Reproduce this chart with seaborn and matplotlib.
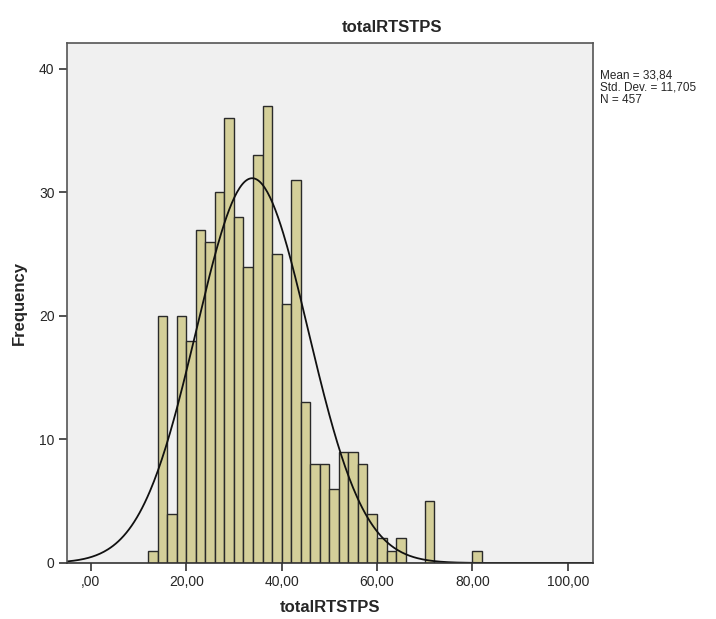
import numpy as np
import pandas as pd
import seaborn as sns
import matplotlib.pyplot as plt

# Histogram counts (bin width 2)
bin_left = [12, 14, 16, 18, 20, 22, 24, 26, 28, 30, 32, 34, 36, 38, 40, 42, 44,
            46, 48, 50, 52, 54, 56, 58, 60, 62, 64, 66, 68, 70, 72, 74, 76, 78, 80]
counts = [1, 20, 4, 20, 18, 27, 26, 30, 36, 28, 24, 33, 37, 25, 21, 31, 13,
          8, 8, 6, 9, 9, 8, 4, 2, 1, 2, 0, 0, 5, 0, 0, 0, 0, 1]
mean_val = 33.84
sd_val = 11.705
n_val = 457
bin_width = 2

xticks = [0, 20, 40, 60, 80, 100]
xtick_labels = [",00", "20,00", "40,00", "60,00", "80,00", "100,00"]
yticks = [0, 10, 20, 30, 40]

df = pd.DataFrame({"totalRTSTPS": bin_left, "count": counts})

sns.set_style("ticks")
plt.rcParams["font.family"] = ["Liberation Sans", "DejaVu Sans"]

fig = plt.figure(figsize=(7.16, 6.19), dpi=100)
ax = fig.add_axes([67 / 716, 1 - 563 / 619, (593 - 67) / 716, (563 - 43) / 619])
ax.set_facecolor("#f0f0f0")

sns.histplot(data=df, x="totalRTSTPS", weights="count", binwidth=bin_width, binrange=(12, 82),
             color="#d4cf99", edgecolor="#2a2a2a", linewidth=1.0, alpha=1, ax=ax)

# fitted normal curve
xs = np.linspace(-5, 105.3, 400)
ys = n_val * bin_width * np.exp(-0.5 * ((xs - mean_val) / sd_val) ** 2) / (sd_val * np.sqrt(2 * np.pi))
sns.lineplot(x=xs, y=ys, color="#111111", linewidth=1.3, ax=ax)

ax.set_xlim(-5, 105.3)
ax.set_ylim(0, 42.1)
ax.set_xticks(xticks)
ax.set_xticklabels(xtick_labels, fontsize=10)
ax.set_yticks(yticks)
ax.set_yticklabels([str(v) for v in yticks], fontsize=10)
ax.tick_params(axis="both", length=6, width=1.2, color="#333333", pad=3)

for side in ["top", "right", "left", "bottom"]:
    ax.spines[side].set_visible(True)
    ax.spines[side].set_color("#555555")
    ax.spines[side].set_linewidth(1.2)
ax.spines["bottom"].set_color("#333333")

ax.set_xlabel("totalRTSTPS", fontsize=12, weight="bold", labelpad=12)
ax.set_ylabel("Frequency", fontsize=12, weight="bold", labelpad=20)
ax.xaxis.set_label_coords(0.5, -(607 - 563) / (563 - 43), transform=ax.transAxes)
ax.yaxis.set_label_coords(-(67 - 19) / (593 - 67), 0.5, transform=ax.transAxes)
ax.xaxis.label.set_va("center")
ax.yaxis.label.set_va("center")

fig.text(392 / 716, 1 - 27 / 619, "totalRTSTPS", fontsize=12, weight="bold",
         ha="center", va="center")
fig.text(600 / 716, 1 - 70 / 619,
         f"Mean = 33,84\nStd. Dev. = 11,705\nN = {n_val}",
         fontsize=8.5, ha="left", va="top", linespacing=1.0)

plt.savefig("out.png", dpi=100)
